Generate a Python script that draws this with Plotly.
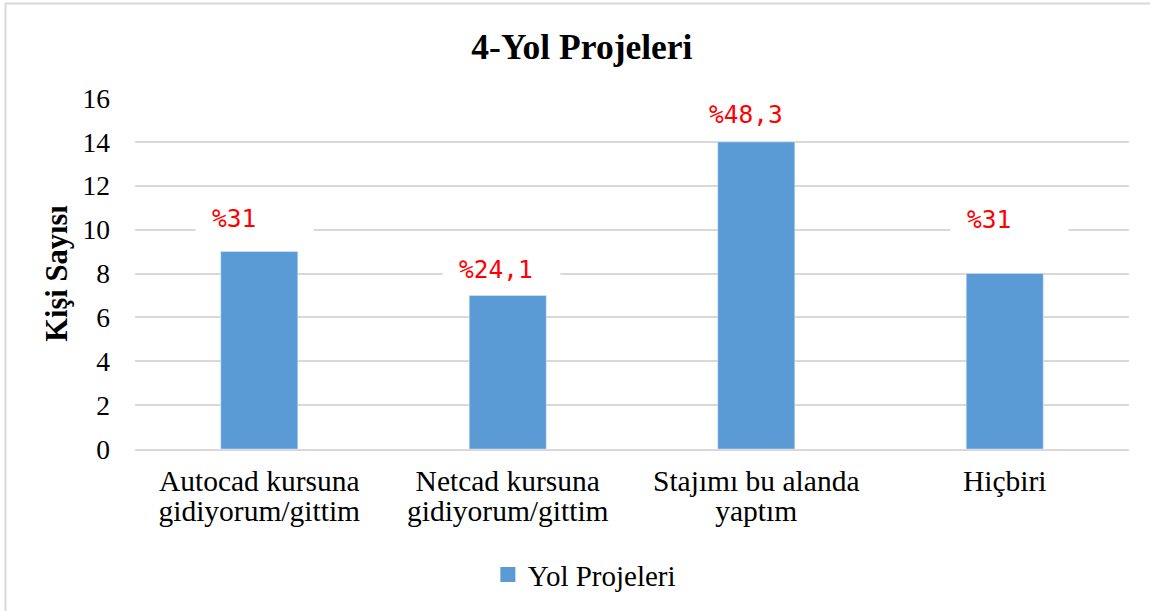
import plotly.graph_objects as go

# ---- data ----
categories = ["Autocad kursuna<br>gidiyorum/gittim",
              "Netcad kursuna<br>gidiyorum/gittim",
              "Stajımı bu alanda<br>yaptım",
              "Hiçbiri"]
values = [9, 7, 14, 8]
label_texts = ["%31", "%24,1", "%48,3", "%31"]
label_y = [10.5, 8.2, 15.25, 10.45]
series_name = "Yol Projeleri"
y_ticks = [0, 2, 4, 6, 8, 10, 12, 14, 16]

BAR_COLOR = "#5B9BD5"
GRID = "#D9D9D9"
SERIF = "Liberation Serif, Times New Roman, serif"

def big(s, px=29.5):
    return "<br>".join(f"<span style='font-size:{px}px'>{p}</span>" for p in s.split("<br>"))

x_idx = list(range(len(categories)))

fig = go.Figure()
fig.add_trace(go.Bar(x=x_idx, y=values, marker_color=BAR_COLOR, name=series_name,
                     showlegend=False, hoverinfo="skip"))
fig.add_trace(go.Scatter(x=[None], y=[None], mode="markers", name=series_name,
                         marker=dict(symbol="square", size=15, color=BAR_COLOR)))

text_shift = [-48, -50, -48, -39]
for i, (t, ly) in enumerate(zip(label_texts, label_y)):
    fig.add_annotation(x=x_idx[i], y=ly, text="&nbsp;", showarrow=False,
                       width=117, height=24, bgcolor="white", borderpad=0,
                       xshift=text_shift[i] + 41.5 + 2, font=dict(size=10))
    fig.add_annotation(x=x_idx[i], y=ly, text=t, showarrow=False, xanchor="left",
                       xshift=text_shift[i], borderpad=0,
                       font=dict(family="DejaVu Sans Mono", size=24.5, color="#FF0000"))

# chart border (cut off at right/bottom as in the reference)
fig.add_shape(type="rect", xref="paper", yref="paper",
              x0=-0.1303, x1=1.2, y0=-0.6, y1=1.269,
              line=dict(color=GRID, width=2), fillcolor="rgba(0,0,0,0)", layer="below")

fig.update_layout(
    width=1150, height=611,
    margin=dict(l=135, r=21, t=98, b=162, autoexpand=False),
    paper_bgcolor="white", plot_bgcolor="white",
    bargap=0.69,
    title=dict(text="<b>4-Yol Projeleri</b>", x=0.506, xref="container",
               y=1 - 47 / 611, yanchor="middle", xanchor="center",
               font=dict(family=SERIF, size=35.5, color="black")),
    legend=dict(orientation="h", x=0.355, xanchor="left", y=-0.285, yanchor="top",
                font=dict(family=SERIF, size=29, color="black"), bgcolor="rgba(0,0,0,0)"),
    xaxis=dict(tickmode="array", tickvals=x_idx, ticktext=[big(c) for c in categories],
               tickfont=dict(family=SERIF, size=22.7, color="black"),
               range=[-0.5, len(categories) - 0.5], showgrid=False, automargin=False,
               showline=True, linecolor=GRID, linewidth=2, ticks="", ticklabelstandoff=13),
    yaxis=dict(range=[0, 16], tickvals=y_ticks, showgrid=True, gridcolor=GRID, gridwidth=2,
               zeroline=False, ticks="", ticklabelstandoff=24, automargin=False,
               tickfont=dict(family=SERIF, size=27.5, color="black"),
               title=dict(text="<b>Kişi Sayısı</b>", standoff=5,
                          font=dict(family=SERIF, size=30.5, color="black"))),
)

fig.write_html("out.html", config={"displayModeBar": False},
               post_script="document.body.style.margin='0';document.body.style.overflow='hidden';")
